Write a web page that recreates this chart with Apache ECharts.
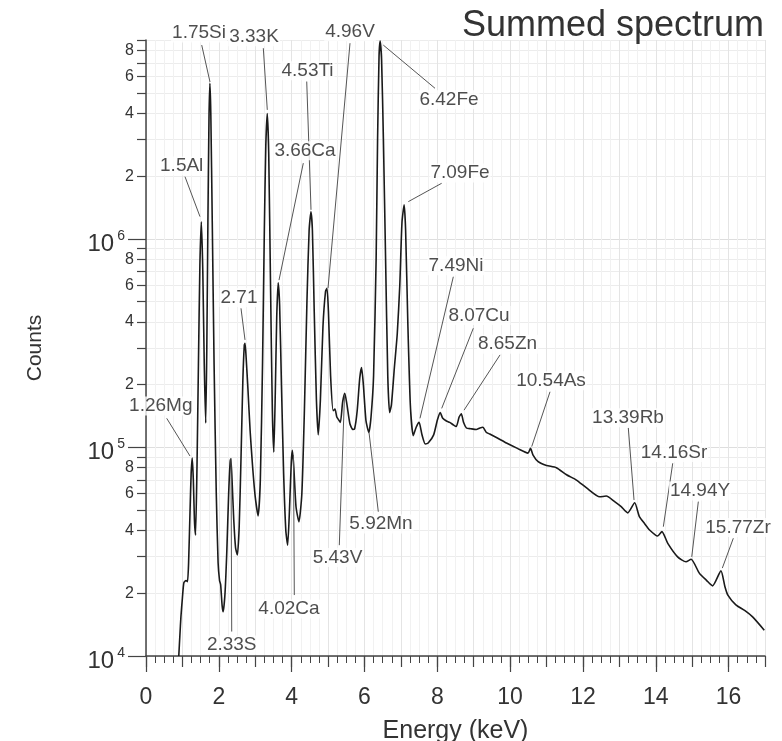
<!DOCTYPE html>
<html><head><meta charset="utf-8">
<script src="https://cdn.jsdelivr.net/npm/echarts@6/dist/echarts.min.js"></script>
<style>html,body{margin:0;padding:0;background:#fff}#c{width:782px;height:741px}</style>
</head><body><div id="c"></div>
<script>
// ---------- DATA ----------
const energy = [0.90,0.93,0.96,1.00,1.04,1.10,1.14,1.17,1.21,1.24,1.27,1.30,1.33,1.36,1.40,1.44,1.48,1.52,1.56,1.60,1.64,1.67,1.70,1.73,1.755,1.78,1.82,1.87,1.93,1.98,2.02,2.05,2.09,2.12,2.17,2.22,2.27,2.31,2.33,2.36,2.41,2.46,2.51,2.56,2.61,2.66,2.70,2.72,2.75,2.80,2.86,2.93,3.00,3.08,3.14,3.20,3.25,3.29,3.33,3.37,3.42,3.47,3.51,3.55,3.59,3.63,3.67,3.72,3.78,3.84,3.89,3.94,3.99,4.02,4.06,4.12,4.20,4.28,4.35,4.42,4.48,4.53,4.57,4.62,4.68,4.73,4.79,4.86,4.93,4.97,5.01,5.07,5.14,5.19,5.24,5.30,5.34,5.40,5.46,5.52,5.60,5.68,5.73,5.80,5.87,5.92,5.97,6.04,6.12,6.18,6.25,6.32,6.36,6.40,6.43,6.47,6.52,6.58,6.64,6.69,6.74,6.82,6.90,6.97,7.03,7.09,7.13,7.19,7.26,7.34,7.42,7.50,7.58,7.67,7.75,7.90,8.00,8.08,8.15,8.25,8.34,8.45,8.52,8.60,8.66,8.72,8.80,8.92,9.07,9.17,9.25,9.35,9.44,9.65,9.90,10.20,10.49,10.56,10.63,10.77,11.00,11.27,11.55,11.82,12.10,12.46,12.64,12.87,13.05,13.23,13.42,13.55,13.70,13.83,14.05,14.17,14.33,14.60,14.83,14.97,15.20,15.40,15.56,15.79,15.90,15.98,16.20,16.45,16.66,16.98];
const counts = [10000,12500,15500,19000,22500,23000,22700,28000,50000,75000,89000,70000,45000,38000,80000,250000,750000,1210000,700000,250000,131000,300000,1200000,3800000,5580000,4000000,1200000,250000,60000,28000,23000,22000,17500,16300,20000,32000,60000,85000,88000,72000,45000,33000,30500,42000,90000,210000,310000,316000,270000,190000,120000,80000,58000,47000,70000,250000,1100000,2800000,4000000,2600000,600000,150000,95000,180000,420000,616000,480000,200000,75000,40000,34000,50000,85000,97000,80000,52000,44000,60000,150000,500000,1100000,1350000,1100000,450000,170000,115000,170000,380000,560000,580000,450000,220000,150000,153000,140000,135000,132000,165000,182000,160000,130000,122000,123000,150000,215000,242000,200000,135000,118000,140000,220000,800000,3000000,7500000,8900000,7200000,3000000,800000,220000,147000,160000,240000,350000,600000,1200000,1460000,1100000,400000,160000,114000,125000,132000,115000,104000,105000,115000,135000,147000,138000,134000,132000,128000,126000,140000,145000,132000,124000,123000,122000,124000,125000,118000,116000,111000,105000,99000,94000,99000,92000,85500,82000,80000,74000,69800,64000,58000,58500,55000,52000,48600,54300,46600,43000,40200,37600,39500,34700,29900,28300,29100,24900,23000,21700,25600,21500,19600,17600,16500,15400,13300];

const peakNames = ['1.75Si','1.5Al','1.26Mg','2.71','3.33K','4.53Ti','3.66Ca','4.96V','6.42Fe','7.09Fe','7.49Ni','8.07Cu','8.65Zn','10.54As','13.39Rb','14.16Sr','14.94Y','15.77Zr','5.92Mn','5.43V','4.02Ca','2.33S'];
const xTickLabels = [0,2,4,6,8,10,12,14,16];
const yDecades = [1e4,1e5,1e6];
const yMinorMantissas = [2,3,4,5,6,7,8,9];
const yMinorLabelMantissas = [2,4,6,8];

// ---------- LAYOUT (annotation placement, in data coordinates) ----------
// [labelE, labelC, leaderFromE, leaderFromC, leaderToE, leaderToC]
const annLayout = [
  [1.456,9.73e6, 1.530,8.51e6, 1.758,5.66e6],
  [0.980,2.24e6, 1.071,1.99e6, 1.483,1.28e6],
  [0.406,1.58e5, 0.569,1.38e5, 1.208,9.1e4],
  [2.554,5.24e5, 2.609,4.65e5, 2.719,3.28e5],
  [2.966,9.33e6, 3.222,8.22e6, 3.331,4.16e6],
  [4.436,6.41e6, 4.414,5.69e6, 4.532,1.38e6],
  [4.367,2.65e6, 4.320,2.31e6, 3.653,6.35e5],
  [5.603,9.86e6, 5.603,8.69e6, 4.999,5.82e5],
  [8.322,4.65e6, 6.517,8.51e6, 7.937,5.28e6],
  [8.624,2.07e6, 8.121,1.85e6, 7.204,1.51e6],
  [8.514,7.43e5, 8.440,6.59e5, 7.525,1.38e5],
  [9.146,4.29e5, 8.989,3.73e5, 8.121,1.54e5],
  [9.929,3.13e5, 9.723,2.78e5, 8.734,1.51e5],
  [11.123,2.09e5, 11.096,1.85e5, 10.593,1.01e5],
  [13.238,1.39e5, 13.246,1.24e5, 13.403,5.6e4],
  [14.502,9.46e4, 14.466,8.40e4, 14.208,4.17e4],
  [15.216,6.18e4, 15.169,5.50e4, 14.988,2.99e4],
  [16.259,4.13e4, 16.130,3.67e4, 15.828,2.64e4],
  [6.454,4.30e4, 6.380,4.92e4, 6.125,1.18e5],
  [5.260,2.97e4, 5.309,3.40e4, 5.452,1.79e5],
  [3.927,1.68e4, 4.073,1.96e4, 4.051,9.2e4],
  [2.354,1.13e4, 2.354,1.31e4, 2.335,8.9e4]
];

const Y_MIN = 1e4, Y_MAX = 9e6, X_MIN = 0, X_MAX = 17;
const FONT = '"Liberation Sans", Arial, sans-serif';
const TXT = '#333';
const AX = '#444';

const spectrum = energy.map((e, i) => [e, counts[i]]);
const logMin = Math.log10(Y_MIN), logMax = Math.log10(Y_MAX);
const majorVals = yDecades.map(d => Math.log10(d));
const minorTickVals = [], minorLabelVals = [];
yDecades.forEach(d => {
  yMinorMantissas.forEach(m => { const v = m * d; if (v <= Y_MAX) minorTickVals.push(Math.log10(v)); });
  yMinorLabelMantissas.forEach(m => { const v = m * d; if (v <= Y_MAX) minorLabelVals.push(Math.log10(v)); });
});

const chart = echarts.init(document.getElementById('c'));
chart.setOption({
  backgroundColor: '#fff',
  animation: false,
  textStyle: { fontFamily: FONT },
  title: {
    text: 'Summed spectrum', right: 13, top: 3,
    textStyle: { fontFamily: FONT, fontSize: 36, fontWeight: 'normal', color: TXT }
  },
  grid: { left: 146, right: 17, top: 40, bottom: 85, containLabel: false, outerBoundsMode: 'none' },
  xAxis: [
    {
      type: 'value', min: X_MIN, max: X_MAX, position: 'bottom',
      axisLine: { show: true, lineStyle: { color: AX, width: 1.5 } },
      axisTick: { show: true, length: 16, customValues: xTickLabels, lineStyle: { color: AX, width: 1.2 } },
      axisLabel: { customValues: xTickLabels, fontSize: 23, color: TXT, margin: 30, fontFamily: FONT },
      splitLine: { show: false },
      name: 'Energy (keV)', nameLocation: 'middle', nameGap: 63,
      nameTextStyle: { fontSize: 25, color: TXT, fontFamily: FONT }
    },
    {
      type: 'value', min: X_MIN, max: X_MAX, interval: 1, position: 'bottom',
      axisLine: { show: false },
      axisTick: { show: true, length: 11, lineStyle: { color: AX, width: 1.2 } },
      minorTick: { show: true, splitNumber: 4, length: 7, lineStyle: { color: AX, width: 1 } },
      axisLabel: { show: false },
      splitLine: { show: true, lineStyle: { color: '#e4e4e4', width: 1 } },
      minorSplitLine: { show: true, lineStyle: { color: '#f1f1f1', width: 1 } }
    }
  ],
  yAxis: [
    {
      type: 'log', logBase: 10, min: Y_MIN, max: Y_MAX, position: 'left',
      axisLine: { show: true, lineStyle: { color: AX, width: 1.5 } },
      axisTick: { show: false }, axisLabel: { show: false }, splitLine: { show: false },
      name: 'Counts', nameLocation: 'middle', nameGap: 100,
      nameTextStyle: { fontSize: 21, color: TXT, fontFamily: FONT }
    },
    {
      type: 'value', min: logMin, max: logMax, position: 'left', offset: 0,
      axisLine: { show: false },
      axisTick: { show: true, length: 9, customValues: minorTickVals, lineStyle: { color: AX, width: 1.2 } },
      axisLabel: {
        customValues: minorLabelVals, margin: 12, fontSize: 16, color: TXT, fontFamily: FONT,
        formatter: v => String(Math.round(Math.pow(10, v - Math.floor(v + 1e-9))))
      },
      splitLine: { show: true, lineStyle: { color: '#ececec', width: 1 } }
    },
    {
      type: 'value', min: logMin, max: logMax, position: 'left', offset: 0,
      axisLine: { show: false },
      axisTick: { show: true, length: 18, customValues: majorVals, lineStyle: { color: AX, width: 1.2 } },
      axisLabel: {
        customValues: majorVals, margin: 21, padding: [10, 0, 0, 0],
        formatter: v => '{b|10}{s|' + Math.round(v) + '}',
        rich: {
          b: { fontSize: 24, lineHeight: 30, color: TXT, fontFamily: FONT },
          s: { fontSize: 14, lineHeight: 14, verticalAlign: 'top', color: TXT, fontFamily: FONT, padding: [0, 0, 0, 3] }
        }
      },
      splitLine: { show: true, lineStyle: { color: '#dedede', width: 1 } }
    }
  ],
  series: [
    {
      type: 'line', name: 'spectrum', xAxisIndex: 0, yAxisIndex: 0,
      data: spectrum, showSymbol: false, symbol: 'none', smooth: 0.2,
      lineStyle: { color: '#1a1a1a', width: 1.6 }, z: 4, silent: true
    },
    {
      type: 'lines', coordinateSystem: 'cartesian2d', xAxisIndex: 0, yAxisIndex: 0,
      data: annLayout.map(a => ({ coords: [[a[2], a[3]], [a[4], a[5]]] })),
      lineStyle: { color: '#555', width: 1, opacity: 1 }, silent: true, z: 5
    },
    {
      type: 'scatter', xAxisIndex: 0, yAxisIndex: 0, clip: false, silent: true,
      symbolSize: 0, z: 6,
      data: annLayout.map((a, i) => ({ value: [a[0], a[1]], label: { formatter: peakNames[i] } })),
      label: {
        show: true, position: 'inside', fontSize: 19, color: '#222', fontFamily: FONT,
        backgroundColor: '#fff', padding: [0, 1]
      }
    }
  ]
});
</script></body></html>
